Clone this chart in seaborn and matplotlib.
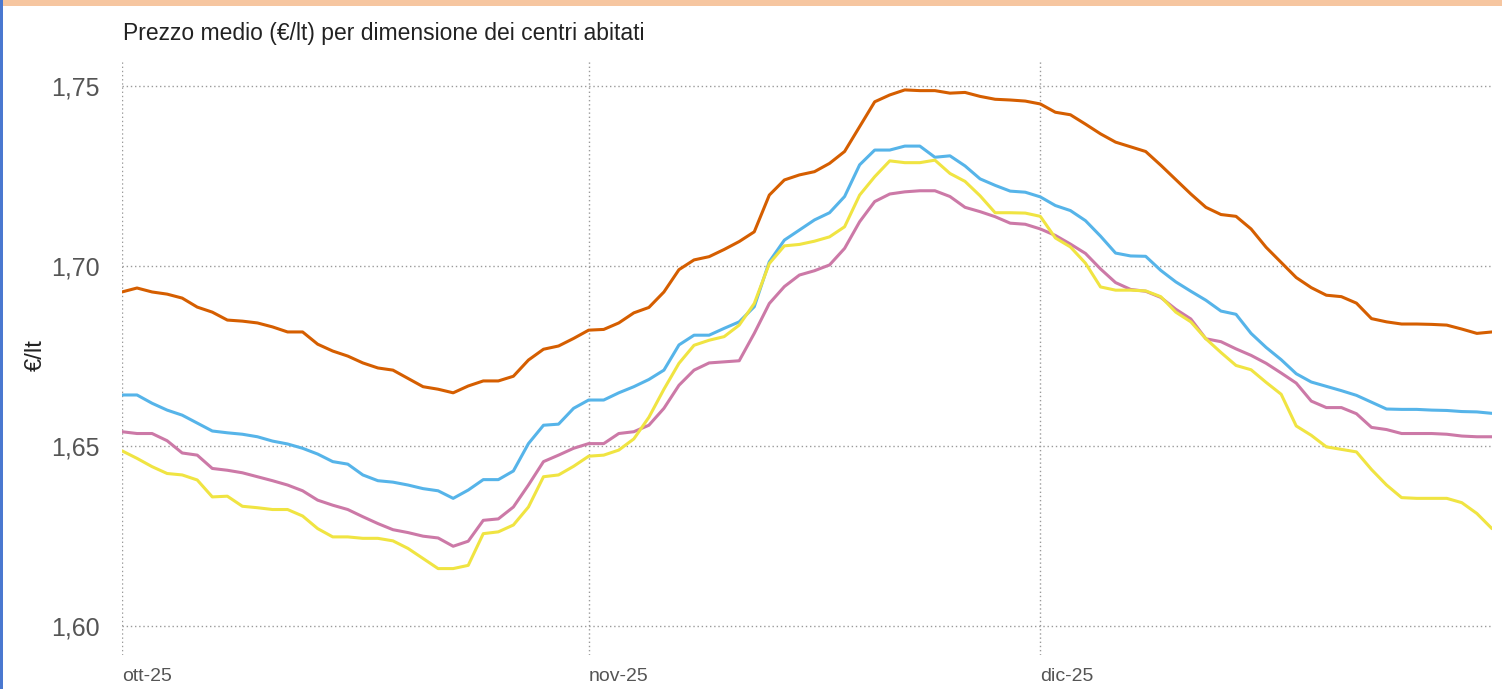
import pandas as pd
import matplotlib
matplotlib.use('Agg')
import matplotlib.pyplot as plt
import matplotlib.ticker as ticker
from matplotlib.patches import Rectangle
import seaborn as sns

sns.set_style('white')
plt.rcParams['font.family'] = ['Liberation Sans', 'DejaVu Sans']

# prezzi giornalieri (€/lt), 1 ott - 31 dic 2025, una serie per classe di centro abitato
arancio = [1.6928, 1.6939, 1.6928, 1.6922, 1.6911, 1.6886, 1.6872, 1.6850, 1.6847, 1.6842, 1.6831,
           1.6817, 1.6817, 1.6783, 1.6764, 1.6750, 1.6731, 1.6717, 1.6711, 1.6688, 1.6665, 1.6658,
           1.6648, 1.6667, 1.6681, 1.6681, 1.6694, 1.6739, 1.6769, 1.6778, 1.6799,
           1.6822, 1.6824, 1.6842, 1.6870, 1.6885, 1.6928, 1.6990, 1.7017, 1.7026, 1.7046, 1.7068,
           1.7095, 1.7197, 1.7239, 1.7253, 1.7262, 1.7285, 1.7318, 1.7387, 1.7456, 1.7475, 1.7489,
           1.7487, 1.7487, 1.7480, 1.7482, 1.7471, 1.7463, 1.7461, 1.7458,
           1.7450, 1.7427, 1.7420, 1.7394, 1.7367, 1.7344, 1.7331, 1.7318, 1.7280, 1.7240, 1.7200,
           1.7163, 1.7143, 1.7138, 1.7103, 1.7052, 1.7010, 1.6968, 1.6940, 1.6919, 1.6915, 1.6897,
           1.6854, 1.6845, 1.6839, 1.6839, 1.6838, 1.6836, 1.6825, 1.6813, 1.6817]
azzurro = [1.6642, 1.6642, 1.6619, 1.6600, 1.6586, 1.6564, 1.6542, 1.6537, 1.6533, 1.6526, 1.6514,
           1.6506, 1.6494, 1.6478, 1.6457, 1.6450, 1.6420, 1.6404, 1.6400, 1.6392, 1.6382, 1.6376,
           1.6355, 1.6378, 1.6407, 1.6407, 1.6431, 1.6507, 1.6558, 1.6561, 1.6605,
           1.6628, 1.6628, 1.6648, 1.6665, 1.6685, 1.6711, 1.6781, 1.6808, 1.6808, 1.6827, 1.6845,
           1.6887, 1.7012, 1.7072, 1.7100, 1.7128, 1.7148, 1.7193, 1.7281, 1.7322, 1.7322, 1.7333,
           1.7333, 1.7302, 1.7306, 1.7278, 1.7242, 1.7224, 1.7208, 1.7205,
           1.7192, 1.7168, 1.7154, 1.7126, 1.7083, 1.7036, 1.7028, 1.7027, 1.6988, 1.6956, 1.6930,
           1.6905, 1.6875, 1.6866, 1.6813, 1.6774, 1.6740, 1.6701, 1.6678, 1.6666, 1.6654, 1.6641,
           1.6622, 1.6603, 1.6602, 1.6602, 1.6600, 1.6599, 1.6596, 1.6595, 1.6591]
rosa = [1.6540, 1.6535, 1.6535, 1.6515, 1.6481, 1.6475, 1.6438, 1.6433, 1.6426, 1.6415, 1.6404,
        1.6392, 1.6376, 1.6350, 1.6336, 1.6324, 1.6304, 1.6285, 1.6268, 1.6260, 1.6250, 1.6245,
        1.6222, 1.6236, 1.6294, 1.6298, 1.6331, 1.6392, 1.6457, 1.6475, 1.6494,
        1.6507, 1.6507, 1.6535, 1.6540, 1.6558, 1.6605, 1.6669, 1.6711, 1.6731, 1.6734, 1.6737,
        1.6813, 1.6896, 1.6943, 1.6975, 1.6987, 1.7003, 1.7049, 1.7123, 1.7179, 1.7200, 1.7206,
        1.7209, 1.7209, 1.7193, 1.7163, 1.7151, 1.7137, 1.7119, 1.7116,
        1.7103, 1.7085, 1.7061, 1.7035, 1.6992, 1.6954, 1.6935, 1.6930, 1.6913, 1.6880, 1.6853,
        1.6798, 1.6790, 1.6770, 1.6752, 1.6730, 1.6703, 1.6675, 1.6625, 1.6607, 1.6607, 1.6590,
        1.6552, 1.6546, 1.6535, 1.6535, 1.6535, 1.6533, 1.6528, 1.6526, 1.6526]
giallo = [1.6487, 1.6466, 1.6443, 1.6424, 1.6420, 1.6406, 1.6359, 1.6361, 1.6333, 1.6329, 1.6324,
          1.6324, 1.6306, 1.6271, 1.6248, 1.6248, 1.6244, 1.6244, 1.6237, 1.6216, 1.6188, 1.6160,
          1.6160, 1.6169, 1.6257, 1.6262, 1.6281, 1.6331, 1.6415, 1.6420, 1.6444,
          1.6472, 1.6475, 1.6489, 1.6520, 1.6580, 1.6658, 1.6730, 1.6780, 1.6794, 1.6804, 1.6836,
          1.6896, 1.7007, 1.7056, 1.7060, 1.7069, 1.7081, 1.7109, 1.7197, 1.7248, 1.7292, 1.7287,
          1.7287, 1.7294, 1.7257, 1.7235, 1.7195, 1.7148, 1.7148, 1.7147,
          1.7138, 1.7078, 1.7053, 1.7008, 1.6942, 1.6933, 1.6933, 1.6931, 1.6915, 1.6872, 1.6845,
          1.6798, 1.6760, 1.6724, 1.6712, 1.6677, 1.6644, 1.6556, 1.6530, 1.6498, 1.6491, 1.6484,
          1.6435, 1.6392, 1.6357, 1.6355, 1.6355, 1.6355, 1.6343, 1.6313, 1.6271]

date = pd.date_range('2025-10-01', '2025-12-31', freq='D')
mesi = ['2025-10-01', '2025-11-01', '2025-12-01']
etichette_mesi = ['ott-25', 'nov-25', 'dic-25']
tick_y = [1.60, 1.65, 1.70, 1.75]

serie = {'arancio': arancio, 'azzurro': azzurro, 'rosa': rosa, 'giallo': giallo}
colori = {'arancio': '#D55E00', 'azzurro': '#56B4E9', 'rosa': '#CC79A7', 'giallo': '#F0E442'}

df = pd.concat([pd.DataFrame({'Data': date, 'Prezzo': v, 'Serie': k}) for k, v in serie.items()])

fig = plt.figure(figsize=(15.02, 6.89), dpi=100)
ax = fig.add_axes([0.0812, 0.0493, 0.9121, 0.8636])

sns.lineplot(data=df, x='Data', y='Prezzo', hue='Serie', palette=colori,
             linewidth=2.2, legend=False, ax=ax)

ax.set_xlim(pd.Timestamp('2025-10-01'), pd.Timestamp('2025-12-31'))
ax.set_ylim(1.592, 1.7572)
ax.set_xticks(pd.to_datetime(mesi))
ax.set_xticklabels(etichette_mesi, ha='left')
ax.set_yticks(tick_y)
ax.yaxis.set_major_formatter(ticker.FuncFormatter(lambda v, p: f'{v:.2f}'.replace('.', ',')))

ax.tick_params(axis='y', length=0, pad=16, labelsize=18, labelcolor='#555555')
ax.tick_params(axis='x', length=0, pad=9, labelsize=14, labelcolor='#555555')
ax.grid(True, color='#9a9a9a', linestyle=(0, (1, 2)), linewidth=1)
for s in ax.spines.values():
    s.set_visible(False)
ax.set_xlabel('')
ax.set_ylabel('')

fig.text(0.0819, 0.952, 'Prezzo medio (€/lt) per dimensione dei centri abitati',
         fontsize=16.5, color='#222222', ha='left', va='center')
fig.text(0.024, 0.485, '€/lt', fontsize=17, color='#222222', rotation=90,
         ha='center', va='center')

# cornice
fig.patches.append(Rectangle((0, 0.992), 1, 0.008, transform=fig.transFigure,
                             facecolor='#F6C6A0', edgecolor='none'))
fig.patches.append(Rectangle((0, 0), 0.002, 1, transform=fig.transFigure,
                             facecolor='#4A78D0', edgecolor='none'))

fig.savefig('out.png', dpi=100)
plt.close()
